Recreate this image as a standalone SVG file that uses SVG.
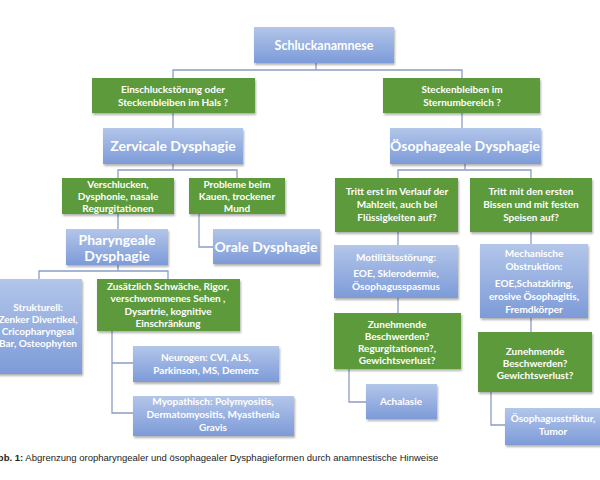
<svg xmlns="http://www.w3.org/2000/svg" width="600" height="480" viewBox="0 0 600 480">
<defs>
<linearGradient id="bg" x1="0" y1="0" x2="0" y2="1"><stop offset="0" stop-color="#b3c6ea"/><stop offset="1" stop-color="#7d9bd8"/></linearGradient>
<filter id="sh" x="-10%" y="-10%" width="130%" height="140%"><feDropShadow dx="1" dy="2" stdDeviation="1.2" flood-color="#000" flood-opacity="0.3"/></filter>
</defs>
<style>
.g{fill:#5b9a3a;filter:url(#sh)}
.b{fill:url(#bg);filter:url(#sh)}
text{font-family:Lato,"Liberation Sans",sans-serif;fill:#fff;font-weight:bold;text-anchor:middle}
.s{font-size:10px}
.m{font-size:12.5px}
.l{font-size:14px}
.c{stroke:#8c9dc3;stroke-width:1.3;fill:none}
</style>
<rect width="600" height="480" fill="#fff"/>
<g id="connectors">
<path class="c" d="M316 63V70M173 78V70H462V78M173 113V128M462 113V128"/>
<path class="c" d="M173 164V170M118 178V170H237V178M118 214V229M199 214V247H213"/>
<path class="c" d="M118 265V271M39 279V271H168V279M112 331V413H133M112 363H133"/>
<path class="c" d="M465 164V170M398 178V170H531V178M398 232V245M398 298V313M531 232V244M531 318V332M349 369V402H366M491 392V425H505"/>
</g>
<g id="n1"><rect class="b" x="254" y="27" width="140" height="36"/><text class="m" x="324" y="50">Schluckanamnese</text></g>
<g id="n2"><rect class="g" x="92" y="78" width="163" height="35"/><text class="s" x="173" y="93">Einschluckstörung oder</text><text class="s" x="173" y="106">Steckenbleiben im Hals ?</text></g>
<g id="n3"><rect class="g" x="383" y="78" width="157" height="35"/><text class="s" x="462" y="93">Steckenbleiben im</text><text class="s" x="462" y="106">Sternumbereich ?</text></g>
<g id="n4"><rect class="b" x="103" y="128" width="140" height="36"/><text class="l" x="173" y="151">Zervicale Dysphagie</text></g>
<g id="n5"><rect class="b" x="390" y="128" width="151" height="36"/><text class="l" x="465" y="151">Ösophageale Dysphagie</text></g>
<g id="n6"><rect class="g" x="62" y="178" width="112" height="36"/><text class="s" x="118" y="188">Verschlucken,</text><text class="s" x="118" y="200">Dysphonie, nasale</text><text class="s" x="118" y="212">Regurgitationen</text></g>
<g id="n7"><rect class="g" x="189" y="178" width="96" height="36"/><text class="s" x="237" y="188">Probleme beim</text><text class="s" x="237" y="200">Kauen, trockener</text><text class="s" x="237" y="212">Mund</text></g>
<g id="n8"><rect class="b" x="66" y="229" width="102" height="36"/><text class="l" x="117" y="245">Pharyngeale</text><text class="l" x="117" y="261">Dysphagie</text></g>
<g id="n9"><rect class="b" x="213" y="229" width="107" height="35"/><text class="l" x="266" y="252">Orale Dysphagie</text></g>
<g id="n10"><rect class="b" x="-5" y="279" width="87" height="95"/><text class="s" x="38" y="311">Strukturell:</text><text class="s" x="38" y="323">Zenker Divertikel,</text><text class="s" x="38" y="335">Cricopharyngeal</text><text class="s" x="38" y="347">Bar, Osteophyten</text></g>
<g id="n11"><rect class="g" x="97" y="279" width="143" height="52"/><text class="s" x="168" y="290">Zusätzlich Schwäche, Rigor,</text><text class="s" x="168" y="302">verschwommenes Sehen ,</text><text class="s" x="168" y="315">Dysartrie, kognitive</text><text class="s" x="168" y="327">Einschränkung</text></g>
<g id="n12"><rect class="b" x="133" y="346" width="146" height="36"/><text class="s" x="206" y="361">Neurogen: CVI, ALS,</text><text class="s" x="206" y="374">Parkinson, MS, Demenz</text></g>
<g id="n13"><rect class="b" x="133" y="396" width="161" height="40"/><text class="s" x="213" y="405">Myopathisch: Polymyositis,</text><text class="s" x="213" y="418">Dermatomyositis, Myasthenia</text><text class="s" x="213" y="431">Gravis</text></g>
<g id="n14"><rect class="g" x="335" y="178" width="123" height="54"/><text class="s" x="397" y="195">Tritt erst im Verlauf der</text><text class="s" x="397" y="208">Mahlzeit, auch bei</text><text class="s" x="397" y="221">Flüssigkeiten auf?</text></g>
<g id="n15"><rect class="g" x="470" y="178" width="122" height="54"/><text class="s" x="531" y="195">Tritt mit den ersten</text><text class="s" x="531" y="208">Bissen und mit festen</text><text class="s" x="531" y="221">Speisen auf?</text></g>
<g id="n16"><rect class="b" x="334" y="245" width="124" height="53"/><text class="s" x="396" y="261">Motilitätsstörung:</text><text class="s" x="396" y="277">EOE, Sklerodermie,</text><text class="s" x="396" y="290">Ösophagusspasmus</text></g>
<g id="n17"><rect class="b" x="480" y="244" width="108" height="74"/><text class="s" x="534" y="257">Mechanische</text><text class="s" x="534" y="270">Obstruktion:</text><text class="s" x="534" y="287">EOE,Schatzkiring,</text><text class="s" x="534" y="300">erosive Ösophagitis,</text><text class="s" x="534" y="313">Fremdkörper</text></g>
<g id="n18"><rect class="g" x="334" y="313" width="127" height="56"/><text class="s" x="397" y="328">Zunehmende</text><text class="s" x="397" y="340">Beschwerden?</text><text class="s" x="397" y="352">Regurgitationen?,</text><text class="s" x="397" y="364">Gewichtsverlust?</text></g>
<g id="n19"><rect class="g" x="478" y="332" width="114" height="60"/><text class="s" x="535" y="355">Zunehmende</text><text class="s" x="535" y="367">Beschwerden?</text><text class="s" x="535" y="379">Gewichtsverlust?</text></g>
<g id="n20"><rect class="b" x="366" y="384" width="71" height="35"/><text class="s" x="401" y="405">Achalasie</text></g>
<g id="n21"><rect class="b" x="505" y="408" width="100" height="37"/><text class="s" x="553" y="422">Ösophagusstriktur,</text><text class="s" x="553" y="435">Tumor</text></g>
<text x="-9" y="461" style="font-family:'Liberation Sans',sans-serif;font-size:9.5px;fill:#222;text-anchor:start;font-weight:normal"><tspan font-weight="bold">Abb. 1:</tspan> Abgrenzung oropharyngealer und ösophagealer Dysphagieformen durch anamnestische Hinweise</text>
</svg>
